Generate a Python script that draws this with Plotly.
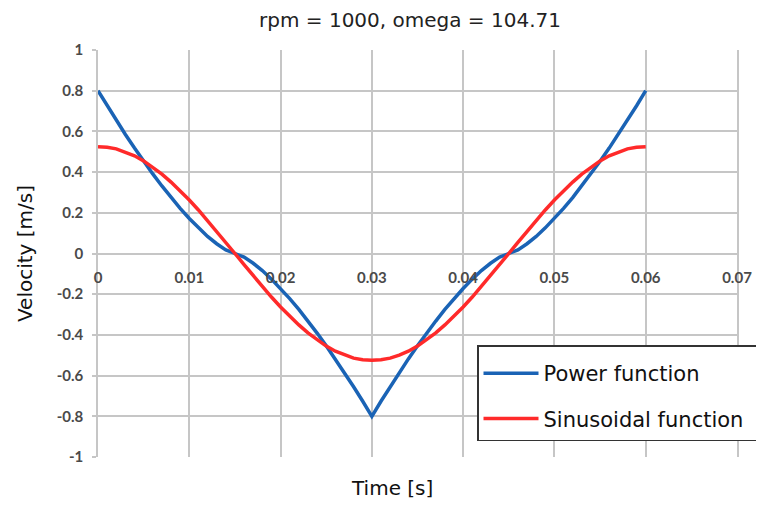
import plotly.graph_objects as go

# time in seconds (read every 1 ms)
time_s = [i / 1000 for i in range(61)]

power_half = [0.800, 0.726, 0.655, 0.585, 0.518, 0.453, 0.391, 0.332, 0.275, 0.222,
              0.172, 0.126, 0.084, 0.048, 0.018, 0.000,
              -0.018, -0.048, -0.084, -0.126, -0.172, -0.222, -0.275, -0.332,
              -0.391, -0.453, -0.518, -0.585, -0.655, -0.726, -0.800]
power_function = power_half + power_half[-2::-1]

sine_half = [0.525, 0.522, 0.514, 0.499, 0.480, 0.455, 0.425, 0.390, 0.351, 0.309,
             0.263, 0.214, 0.162, 0.109, 0.055, 0.000,
             -0.055, -0.109, -0.162, -0.214, -0.263, -0.309, -0.351, -0.390,
             -0.425, -0.455, -0.480, -0.499, -0.514, -0.522, -0.525]
sinusoidal_function = sine_half + sine_half[-2::-1]

x_ticks = [0, 0.01, 0.02, 0.03, 0.04, 0.05, 0.06, 0.07]
x_tick_labels = ["0", "0.01", "0.02", "0.03", "0.04", "0.05", "0.06", "0.07"]
y_ticks = [1, 0.8, 0.6, 0.4, 0.2, 0, -0.2, -0.4, -0.6, -0.8, -1]
y_tick_labels = ["1", "0.8", "0.6", "0.4", "0.2", "0", "-0.2", "-0.4", "-0.6", "-0.8", "-1"]

title_text = "rpm = 1000, omega = 104.71"
series_names = ["Power function", "Sinusoidal function"]

GRID = "#c6c6c6"
TICKFONT = dict(family="Lato", size=15, color="#4a4a4a", weight="bold")

# page body adds an 8px offset; figure is sized to fill the rest of the window
W, H = 756, 497
fig = go.Figure()
fig.add_trace(go.Scatter(x=time_s, y=power_function, mode="lines", name=series_names[0],
                         legendgroup="a", line=dict(color="#1a63b5", width=3.5)))
fig.add_trace(go.Scatter(x=time_s, y=sinusoidal_function, mode="lines",
                         name=series_names[1] + "\u00a0\u00a0",
                         legendgroup="b", line=dict(color="#ff2a2a", width=3.5)))

fig.update_layout(
    width=W, height=H,
    margin=dict(l=90, r=27, t=42, b=48, autoexpand=False),
    paper_bgcolor="white", plot_bgcolor="white",
    font=dict(family="DejaVu Sans", color="#111"),
    title=dict(text=title_text, x=(410 - 98) / 639, xref="paper", xanchor="center",
               y=1 - 12 / H, yref="container", yanchor="middle",
               font=dict(family="DejaVu Sans", size=20, color="#222")),
    xaxis=dict(range=[0, 0.07], tickvals=x_ticks, ticktext=x_tick_labels,
               showgrid=True, gridcolor=GRID, gridwidth=1.5,
               zeroline=False, showline=False, automargin=False,
               anchor="free", position=0.5, ticks="", ticklabelstandoff=13,
               tickfont=TICKFONT),
    yaxis=dict(range=[-1, 1], tickvals=y_ticks, ticktext=y_tick_labels,
               showgrid=True, gridcolor=GRID, gridwidth=1.5,
               zeroline=True, zerolinecolor=GRID, zerolinewidth=1.5,
               showline=True, linecolor=GRID, linewidth=1.5, mirror=True,
               ticks="outside", ticklen=4, tickcolor=GRID, tickwidth=1.5,
               ticklabelstandoff=6, tickfont=TICKFONT, automargin=False,
               title=dict(text="Velocity [m/s]", standoff=19,
                          font=dict(family="DejaVu Sans", size=20, color="#111"))),
    legend=dict(x=(477 - 98) / 639, y=(457 - 345) / 407, xanchor="left", yanchor="top",
                bgcolor="white", bordercolor="#333", borderwidth=1.5,
                font=dict(family="DejaVu Sans", size=21, color="#111"),
                title=dict(text="\u00a0", font=dict(size=5)),
                tracegroupgap=15, traceorder="grouped", itemwidth=55),
    annotations=[dict(text="Time [s]", xref="paper", yref="paper",
                      x=(392 - 98) / 639, y=(457 - 488) / 407,
                      xanchor="center", yanchor="middle", showarrow=False,
                      font=dict(family="DejaVu Sans", size=20, color="#111"))],
)

fig.write_html("out.html")
